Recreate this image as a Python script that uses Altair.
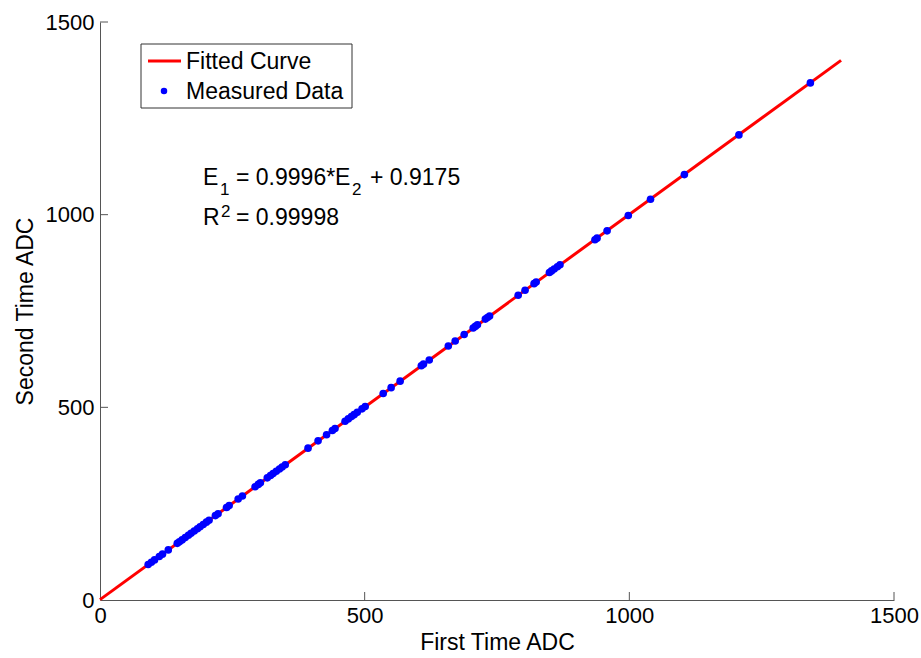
import altair as alt
import pandas as pd

first_adc = [91, 97, 103, 112, 118, 129, 146, 150, 155, 161, 167, 172, 178, 184, 189, 195,
             201, 206, 218, 223, 239, 244, 261, 269, 293, 299, 303, 316, 322, 327, 333, 339,
             344, 350, 393, 412, 428, 439, 444, 463, 469, 475, 480, 486, 495, 501, 535, 550,
             567, 607, 611, 622, 658, 671, 688, 705, 709, 713, 728, 732, 736, 790, 803, 820,
             824, 849, 853, 858, 864, 869, 935, 939, 958, 998, 1040, 1104, 1207, 1342]
second_adc = [92, 98, 104, 113, 119, 130, 147, 151, 156, 162, 168, 173, 179, 185, 190, 196,
              202, 207, 219, 224, 240, 245, 262, 270, 294, 300, 304, 317, 323, 328, 334, 340,
              345, 351, 394, 413, 429, 440, 445, 464, 470, 476, 481, 487, 496, 502, 536, 551,
              568, 608, 612, 623, 659, 672, 689, 706, 710, 714, 729, 733, 737, 791, 804, 821,
              825, 850, 854, 859, 865, 870, 935, 939, 958, 998, 1040, 1104, 1207, 1342]

# Fitted curve end points
fit_x = [0, 1400]
fit_y = [0.9175, 1400.36]

x_ticks = [0, 500, 1000, 1500]
y_ticks = [0, 500, 1000, 1500]

W, H = 794, 578
FONT = "Liberation Sans"
AXIS_COLOR = "#555555"

pts = pd.DataFrame({"x": first_adc, "y": second_adc})
fit = pd.DataFrame({"x": fit_x, "y": fit_y})
xt = pd.DataFrame({"t": x_ticks[1:]})
yt = pd.DataFrame({"t": y_ticks[1:]})
one = pd.DataFrame({"a": [0]})

xscale = alt.Scale(domain=[0, 1500], nice=False, zero=False)
yscale = alt.Scale(domain=[0, 1500], nice=False, zero=False)

xaxis = alt.Axis(values=x_ticks, format="d", title="First Time ADC", ticks=False, grid=False,
                 labelFont=FONT, labelFontSize=22, labelColor="black", labelPadding=5,
                 titleFont=FONT, titleFontSize=23, titleFontWeight="normal", titleColor="black",
                 titlePadding=5, domainColor=AXIS_COLOR, labelFlush=False)
yaxis = alt.Axis(values=y_ticks, format="d", title="Second Time ADC", ticks=False, grid=False,
                 labelFont=FONT, labelFontSize=22, labelColor="black", labelPadding=6,
                 titleFont=FONT, titleFontSize=23, titleFontWeight="normal", titleColor="black",
                 titlePadding=8, domainColor=AXIS_COLOR, labelFlush=False)

line = alt.Chart(fit).mark_line(color="#FF0000", strokeWidth=3).encode(
    x=alt.X("x:Q", scale=xscale, axis=xaxis),
    y=alt.Y("y:Q", scale=yscale, axis=yaxis),
)

points = alt.Chart(pts).mark_circle(color="#0000FF", opacity=1, size=58).encode(
    x=alt.X("x:Q", scale=xscale),
    y=alt.Y("y:Q", scale=yscale),
)

xticks = alt.Chart(xt).mark_rule(color=AXIS_COLOR, strokeWidth=1).encode(
    x=alt.X("t:Q", scale=xscale), y=alt.value(H), y2=alt.value(H - 8))
yticks = alt.Chart(yt).mark_rule(color=AXIS_COLOR, strokeWidth=1).encode(
    y=alt.Y("t:Q", scale=yscale), x=alt.value(0), x2=alt.value(8))

# Legend (manual, MATLAB style)
leg_box = alt.Chart(one).mark_rect(fill="white", stroke="#333333", strokeWidth=1).encode(
    x=alt.value(41), x2=alt.value(252), y=alt.value(22), y2=alt.value(86))
leg_line = alt.Chart(one).mark_rule(color="#FF0000", strokeWidth=3).encode(
    x=alt.value(48), x2=alt.value(81), y=alt.value(39))
leg_dot = alt.Chart(one).mark_circle(color="#0000FF", opacity=1, size=42).encode(
    x=alt.value(64), y=alt.value(69))


def txt(s, x, y, size=23):
    return alt.Chart(one).mark_text(font=FONT, fontSize=size, color="black", align="left",
                                    baseline="alphabetic").encode(
        x=alt.value(x), y=alt.value(y), text=alt.value(s))


texts = [
    txt("Fitted Curve", 86, 47),
    txt("Measured Data", 86, 77),
    txt("E", 103, 163),
    txt("1", 120, 173, 17),
    txt("= 0.9996*E", 136, 163),
    txt("2", 252, 173, 17),
    txt("+ 0.9175", 270, 163),
    txt("R", 103, 203),
    txt("2", 121, 195, 17),
    txt("= 0.99998", 136, 203),
]

chart = alt.layer(line, points, xticks, yticks, leg_box, leg_line, leg_dot, *texts).properties(
    width=W, height=H,
    autosize=alt.AutoSizeParams(type="none"),
    padding={"left": 100, "top": 22, "right": 27, "bottom": 58},
    background="white",
).configure_view(stroke=None)

chart.save("out.html", embed_options={"renderer": "svg", "actions": False})
